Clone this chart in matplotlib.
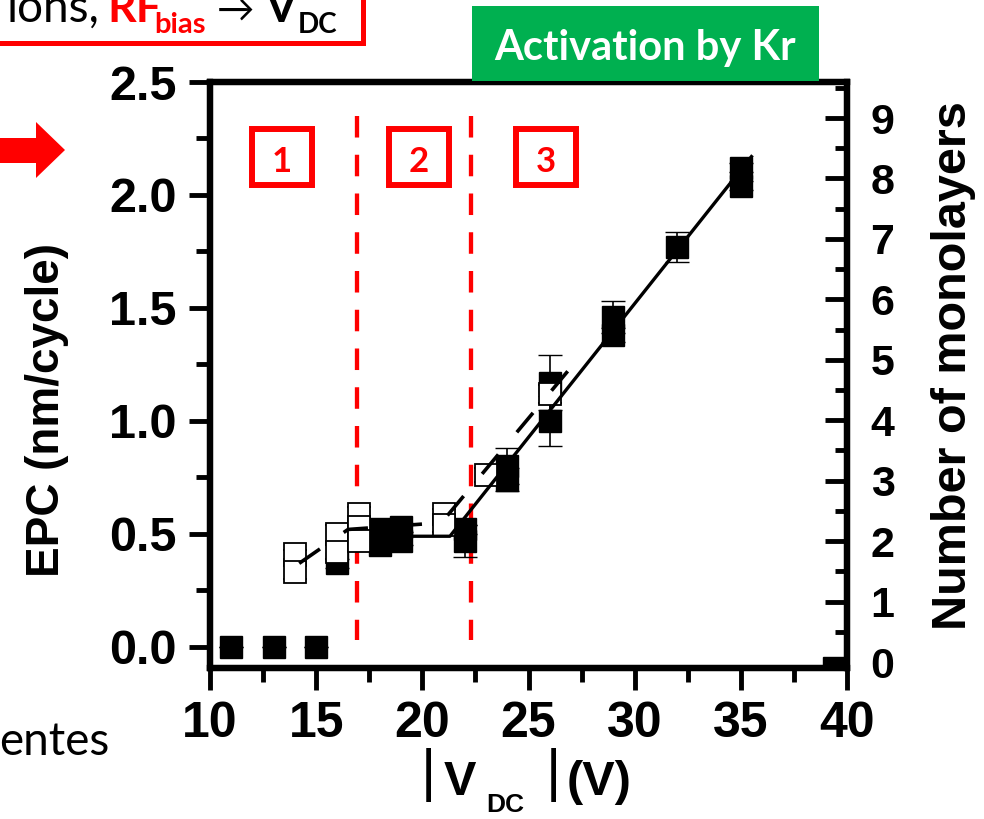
import matplotlib
matplotlib.use("Agg")
import matplotlib.pyplot as plt
import matplotlib.patches as mpatches
from matplotlib.ticker import MultipleLocator

plt.rcParams['font.family'] = ['Liberation Sans', 'DejaVu Sans']

# ----------------------------------------------------------------------
# data
# ----------------------------------------------------------------------

# filled squares (black) : |V_DC| (V), EPC (nm/cycle), error
filled_x = [11, 13, 15, 16, 18, 18, 19, 19, 22, 22, 24, 24, 26, 26, 29, 29, 32, 35, 35]
filled_y = [0.0, 0.0, 0.0, 0.37, 0.45, 0.52, 0.47, 0.53, 0.52, 0.47, 0.80, 0.74,
            1.00, 1.17, 1.46, 1.38, 1.77, 2.12, 2.04]
filled_err = [0, 0, 0, 0.02, 0.02, 0.02, 0.02, 0.02, 0.02, 0.07, 0.08, 0.05,
              0.11, 0.12, 0.07, 0.03, 0.065, 0.02, 0.02]

# open squares
open_x = [14, 14, 16, 16, 17, 17, 17, 21, 21, 23, 26]
open_y = [0.41, 0.33, 0.50, 0.42, 0.59, 0.53, 0.47, 0.59, 0.54, 0.76, 1.12]
open_err = [0.02, 0.03, 0.04, 0.03, 0.03, 0.02, 0.03, 0.02, 0.03, 0.03, 0.04]

# partially hidden point at the bottom right corner
corner_x = [39.4]
corner_y = [-0.093]

# linear fits
fit_solid_x = [18.0, 21.3, 35.5]
fit_solid_y = [0.49, 0.49, 2.17]
fit_dash_x = [14.2, 16.5, 20.9, 27.2]
fit_dash_y = [0.37, 0.52, 0.55, 1.26]

# regime boundaries
bound_x = [16.9, 22.3]
bound_y = [2.35, 0.03]
regime_labels = ["1", "2", "3"]

xticks = [10, 15, 20, 25, 30, 35, 40]
yticks = [0.0, 0.5, 1.0, 1.5, 2.0, 2.5]
ml_ticks = list(range(10))

# ----------------------------------------------------------------------
# figure, in pixel coordinates of the slide crop
# ----------------------------------------------------------------------
W, H = 984, 819
fig = plt.figure(figsize=(W / 100, H / 100), dpi=100)


def fx(x):
    return x / W


def fy(y):
    return 1 - y / H


ax = fig.add_axes([fx(210), fy(668), fx(847) - fx(210), fy(82) - fy(668)])
ax.set_xlim(10, 40)
ax.set_ylim(-0.093, 2.5)

for sp in ax.spines.values():
    sp.set_linewidth(4.5)

ax.set_xticks(xticks)
ax.set_yticks(yticks)
ax.set_yticklabels([f"{v:.1f}" for v in yticks])
ax.xaxis.set_minor_locator(MultipleLocator(2.5))
ax.yaxis.set_minor_locator(MultipleLocator(0.25))
ax.tick_params(axis='x', which='major', direction='out', length=16, width=3.5, pad=8, labelsize=36)
ax.tick_params(axis='x', which='minor', direction='out', length=10, width=3.5)
ax.tick_params(axis='y', which='major', direction='out', length=15, width=3.5, pad=9, labelsize=35)
ax.tick_params(axis='y', which='minor', direction='out', length=10, width=3.5)
for lab in ax.get_xticklabels() + ax.get_yticklabels():
    lab.set_fontweight('bold')

ax2 = ax.twinx()
ax2.set_ylim(-0.099, 9.596)
ax2.set_yticks(ml_ticks)
ax2.yaxis.set_minor_locator(MultipleLocator(0.5))
ax2.tick_params(axis='y', which='major', direction='in', length=16, width=3.5, pad=17, labelsize=31)
ax2.tick_params(axis='y', which='minor', direction='in', length=9, width=3.5)
for lab in ax2.get_yticklabels():
    lab.set_fontweight('bold')
for sp in ax2.spines.values():
    sp.set_linewidth(4.5)

# regime boundaries
for bx in bound_x:
    ax.plot([bx, bx], bound_y, color='#FF0000', lw=3.1, linestyle=(0, (5, 4)), zorder=2)

# data
ax.errorbar(filled_x, filled_y, yerr=filled_err, fmt='s', ms=16, mfc='black', mec='black',
            mew=1, ecolor='black', elinewidth=1.2, capsize=8.5, capthick=1.2, zorder=3)
ax.errorbar(open_x, open_y, yerr=open_err, fmt='s', ms=16, mfc='white', mec='black',
            mew=1.3, ecolor='black', elinewidth=1.2, capsize=8.5, capthick=1.2, zorder=4)
ax.plot(corner_x, corner_y, 's', ms=16, color='black', zorder=3)
ax.plot(fit_solid_x, fit_solid_y, color='black', lw=2.4, zorder=6)
ax.plot(fit_dash_x, fit_dash_y, color='black', lw=2.6, linestyle=(0, (7, 8)), zorder=6)

# axis labels
fig.text(fx(47), fy(410), "EPC (nm/cycle)", rotation=90, ha='center', va='center',
         fontsize=33, fontweight='bold')
fig.text(fx(954), fy(366), "Number of monolayers", rotation=90, ha='center', va='center',
         fontsize=35, fontweight='bold')
fig.text(fx(421), fy(775), "|", ha='left', va='center', fontsize=42)
fig.text(fx(444), fy(795), "V", ha='left', va='baseline', fontsize=35, fontweight='bold')
fig.text(fx(486), fy(812), "DC", ha='left', va='baseline', fontsize=19, fontweight='bold')
fig.text(fx(546), fy(775), "|", ha='left', va='center', fontsize=42)
fig.text(fx(567), fy(795), "(V)", ha='left', va='baseline', fontsize=35, fontweight='bold')

# regime boxes
slide_font = ['Lato', 'DejaVu Sans']
for i, cx in enumerate([282, 419, 546]):
    fig.patches.append(mpatches.Rectangle((fx(cx - 30), fy(185)), 60 / W, 56 / H,
                                          transform=fig.transFigure, fill=False,
                                          edgecolor='#FF0000', lw=4.3))
    fig.text(fx(cx), fy(172), regime_labels[i], ha='center', va='baseline', fontsize=25,
             fontweight='bold', color='#FF0000', family=slide_font)

# green title box
fig.patches.append(mpatches.Rectangle((fx(472), fy(81)), 347 / W, 75 / H,
                                      transform=fig.transFigure, facecolor='#00B050',
                                      edgecolor='none', zorder=5))
fig.text(fx(645), fy(60), "Activation by Kr", ha='center', va='baseline', fontsize=30,
         fontweight='bold', color='white', family=slide_font, zorder=6)

# slide fragments around the chart
fig.patches.append(mpatches.Rectangle((fx(-10), fy(43)), 373 / W, 60 / H,
                                      transform=fig.transFigure, fill=False,
                                      edgecolor='#FF0000', lw=3.6))
fig.text(fx(6), fy(22), "ions,", ha='left', va='baseline', fontsize=33, family=slide_font)
fig.text(fx(107), fy(22), "RF", ha='left', va='baseline', fontsize=32, fontweight='bold',
         color='#FF0000', family=slide_font)
fig.text(fx(154), fy(33), "bias", ha='left', va='baseline', fontsize=21, fontweight='bold',
         color='#FF0000', family=slide_font)
fig.text(fx(217), fy(22), "\u2192", ha='left', va='baseline', fontsize=27, family=slide_font)
fig.text(fx(265), fy(22), "V", ha='left', va='baseline', fontsize=32, fontweight='bold',
         family=slide_font)
fig.text(fx(298), fy(33), "DC", ha='left', va='baseline', fontsize=20, fontweight='bold',
         family=slide_font)
fig.text(fx(-1), fy(755), "entes", ha='left', va='baseline', fontsize=33, family=slide_font)

arrow_px = [(0, 138), (36, 138), (36, 122), (65, 150), (36, 178), (36, 163), (0, 163)]
fig.patches.append(mpatches.Polygon([(fx(x), fy(y)) for x, y in arrow_px], closed=True,
                                    transform=fig.transFigure, facecolor='#FF0000',
                                    edgecolor='none'))

fig.savefig("out.png", dpi=100)
